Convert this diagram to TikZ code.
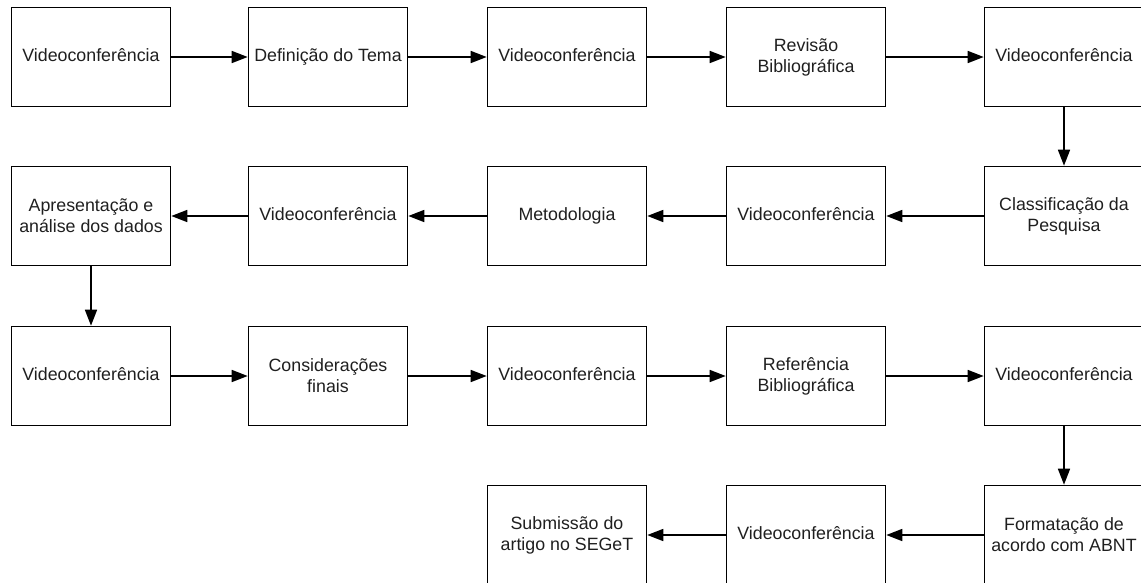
\documentclass[tikz,border=0pt]{standalone}
\usepackage{fontspec}
\setmainfont{Liberation Sans}
\usetikzlibrary{arrows.meta}
\begin{document}
\begin{tikzpicture}[x=1pt,y=-1pt,
  box/.style={draw=black, line width=1.6pt, minimum width=159pt, minimum height=99pt,
    inner sep=2pt, align=center, text=black!88,
    font=\fontsize{17.8pt}{21pt}\selectfont},
  one/.style={box, text height=12.5pt, text depth=4pt},
  arr/.style={line width=1.6pt, -{Triangle[length=16pt,width=12pt]}}]
\useasboundingbox (0,0) rectangle (1141,582);
% row 1
\node[one] (r1c1) at (91,57) {Videoconferência};
\node[one] (r1c2) at (328,57) {Definição do Tema};
\node[one] (r1c3) at (567,57) {Videoconferência};
\node[box] (r1c4) at (806,57) {Revisão\\Bibliográfica};
\node[one] (r1c5) at (1064,57) {Videoconferência};
% row 2
\node[box] (r2c1) at (91,216) {Apresentação e\\análise dos dados};
\node[one] (r2c2) at (328,216) {Videoconferência};
\node[one] (r2c3) at (567,216) {Metodologia};
\node[one] (r2c4) at (806,216) {Videoconferência};
\node[box] (r2c5) at (1064,216) {Classificação da\\Pesquisa};
% row 3
\node[one] (r3c1) at (91,376) {Videoconferência};
\node[box] (r3c2) at (328,376) {Considerações\\finais};
\node[one] (r3c3) at (567,376) {Videoconferência};
\node[box] (r3c4) at (806,376) {Referência\\Bibliográfica};
\node[one] (r3c5) at (1064,376) {Videoconferência};
% row 4
\node[box] (r4c3) at (567,535) {Submissão do\\artigo no SEGeT};
\node[one] (r4c4) at (806,535) {Videoconferência};
\node[box] (r4c5) at (1064,535) {Formatação de\\acordo com ABNT};
% arrows
\draw[arr] (r1c1.east) -- (r1c2.west);
\draw[arr] (r1c2.east) -- (r1c3.west);
\draw[arr] (r1c3.east) -- (r1c4.west);
\draw[arr] (r1c4.east) -- (r1c5.west);
\draw[arr] (r1c5.south) -- (r2c5.north);
\draw[arr] (r2c5.west) -- (r2c4.east);
\draw[arr] (r2c4.west) -- (r2c3.east);
\draw[arr] (r2c3.west) -- (r2c2.east);
\draw[arr] (r2c2.west) -- (r2c1.east);
\draw[arr] (r2c1.south) -- (r3c1.north);
\draw[arr] (r3c1.east) -- (r3c2.west);
\draw[arr] (r3c2.east) -- (r3c3.west);
\draw[arr] (r3c3.east) -- (r3c4.west);
\draw[arr] (r3c4.east) -- (r3c5.west);
\draw[arr] (r3c5.south) -- (r4c5.north);
\draw[arr] (r4c5.west) -- (r4c4.east);
\draw[arr] (r4c4.west) -- (r4c3.east);
\end{tikzpicture}
\end{document}
